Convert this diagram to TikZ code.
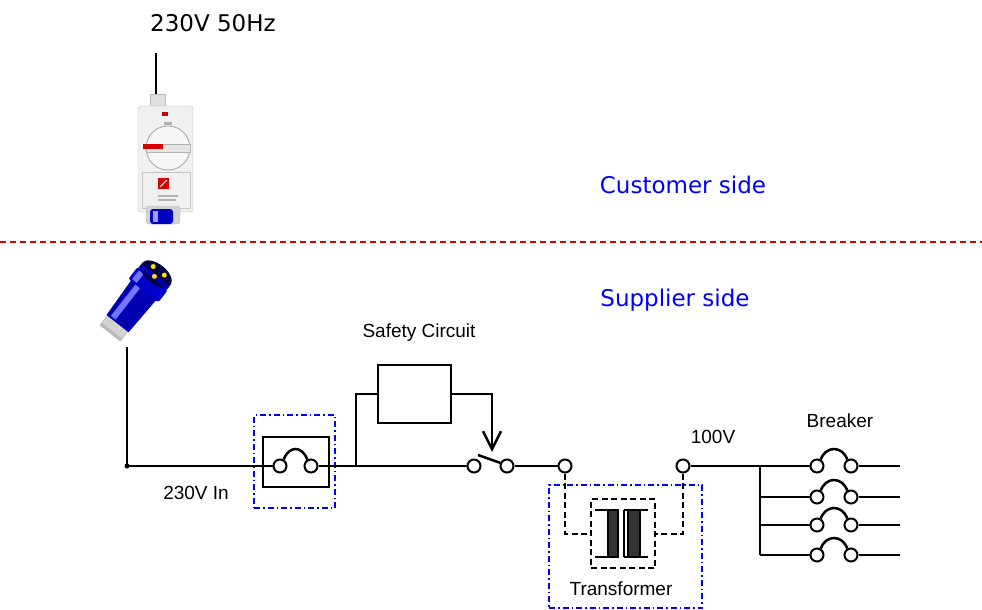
\documentclass[tikz,border=0pt]{standalone}
\usepackage{fontspec}
\setmainfont{DejaVu Sans}
\newfontfamily\arialf{Liberation Sans}
\usetikzlibrary{arrows.meta,calc}
\begin{document}
\begin{tikzpicture}[x=1pt,y=-1pt,
 wire/.style={line width=2.5pt},
 term/.style={circle,draw,line width=2pt,fill=white,minimum size=13pt,inner sep=0pt},
 bluebox/.style={draw=blue,line width=1.7pt,dash pattern=on 6pt off 3pt on 1.5pt off 3pt},
 blklbl/.style={font=\arialf\fontsize{19}{22}\selectfont,inner sep=0pt},
 sidelbl/.style={font=\fontsize{23}{27}\selectfont,text=blue,inner sep=0pt},
 toplbl/.style={font=\fontsize{23}{27}\selectfont,inner sep=0pt},
 tdash/.style={line width=2pt,dash pattern=on 6pt off 3.5pt},
 rect/.style={draw,line width=2.5pt,inner sep=0pt},
]
\useasboundingbox (0,0) rectangle (982,610);
\fill[white] (0,0) rectangle (982,610);

% top label and outlet
\node[toplbl] (supply) at (213,23) {230V 50Hz};
\coordinate (cordtop) at (156,53);
\coordinate (cordbot) at (156,95);
\draw[wire] (cordtop) -- (cordbot);
% outlet picture
\filldraw[fill=gray!25,draw=gray!55] (150,94) rectangle (165,108);
\filldraw[fill=gray!12,draw=gray!50,rounded corners=3] (138,106) rectangle (193,212);
\fill[red!80!black] (162,112) rectangle (168,116);
\fill[gray!60] (164,122) rectangle (172,125);
\filldraw[fill=gray!6,draw=gray!60,line width=1pt] (168,148) circle (22);
\filldraw[fill=gray!20,draw=gray!60] (146,144) rectangle (190,152);
\fill[red!85!black] (143,144) rectangle (163,149);
\draw[gray!45] (142,172) rectangle (190,208);
\fill[red!85!black] (158,178) rectangle (169,189);
\draw[white,line width=0.8pt] (160,187) -- (167,180);
\fill[gray!60] (158,195) rectangle (178,197);
\fill[gray!60] (158,199) rectangle (176,201);
\filldraw[fill=gray!35,draw=gray!55,rounded corners=3] (146,206) rectangle (180,224);
\fill[blue!75!black,rounded corners=3] (150,209) rectangle (173,224);
\fill[blue!40] (153,211) rectangle (158,222);

% side labels and boundary
\node[sidelbl] (cust) at (683,185) {Customer side};
\node[sidelbl] (supp) at (675,300) {Supplier side};
\coordinate (bl) at (0,242);
\coordinate (br) at (982,242);
\draw[red!85!black,line width=1.1pt,dash pattern=on 6pt off 4pt] (bl) -- (br);

% plug picture
\begin{scope}[shift={(136,300)},rotate=52]
 \filldraw[fill=gray!35,draw=gray!60] (-42,-13) rectangle (-29,13);
 \fill[gray!55] (-42,-13) rectangle (-39,13);
 \fill[blue!70!black] (-30,-14) -- (14,-16) -- (14,16) -- (-30,14) -- cycle;
 \fill[blue!55] (-28,-10) rectangle (12,-4);
 \fill[blue!80!black,rounded corners=2] (12,-19) rectangle (27,19);
 \fill[blue!55] (14,-16) rectangle (25,-10);
 \fill[blue!25!black] (33,0) ellipse (10 and 18);
 \fill[blue!65!black] (27,-18) rectangle (32,18);
 \fill[yellow!80!orange] (37,-7) circle (2.5);
 \fill[yellow!80!orange] (37,7) circle (2.5);
 \fill[yellow!80!orange] (30,0) circle (2.5);
\end{scope}

% incoming line
\coordinate (plugend) at (127,347);
\node[circle,fill,inner sep=0pt,minimum size=5pt] (dot) at (127,466) {};
\draw[wire] (plugend) -- (dot.center);
\node[blklbl] (inlbl) at (196,493) {230V In};

% fuse
\node[rect,minimum width=66pt,minimum height=50pt] (fusebox) at (296,462) {};
\node[bluebox,draw,minimum width=81pt,minimum height=93pt,inner sep=0pt] (fuseblue) at (294.5,461.5) {};
\node[term] (fL) at (280,466) {};
\node[term] (fR) at (311,466) {};
\draw[wire] (dot.center) -- (fL.west);
\draw[wire] (fL.60) .. controls ($(fL.60)+(5,-14)$) and ($(fR.120)+(-5,-14)$) .. (fR.120);

% junction and safety circuit
\coordinate (jn) at (356,466);
\draw[wire] (fR.east) -- (jn);
\node[rect,minimum width=73pt,minimum height=58pt] (sc) at (414.5,394) {};
\node[blklbl] (sclbl) at (419,333) {Safety Circuit};
\node[term] (sw1) at (474,466) {};
\node[term] (sw2) at (507,466) {};
\draw[wire] (jn) -- (sw1.west);
\draw[wire] (jn) |- (sc.west);
\coordinate (tip) at (492,452);
\draw[wire,-{Straight Barb[length=18pt,width=18pt]}] (sc.east) -| (tip);
\draw[wire] ($(sw1.center)+(4,-11)$) -- (sw2.155);

% transformer
\node[term] (t1) at (565,466) {};
\node[term] (t2) at (683,466) {};
\draw[wire] (sw2.east) -- (t1.west);
\node[blklbl] (v100) at (713,437) {100V};
\node[bluebox,draw,minimum width=153pt,minimum height=123pt,inner sep=0pt] (trblue) at (625.5,546.5) {};
\node[draw,tdash,minimum width=64pt,minimum height=69pt,inner sep=0pt] (tr) at (623,533.5) {};
\draw[tdash] (t1.south) |- (tr.west);
\draw[tdash] (t2.south) |- (tr.east);
\draw[line width=1.6pt] (595,510) -- (617,510);
\draw[line width=1.6pt] (595,557) -- (617,557);
\filldraw[fill=black!80,line width=1.3pt] (608,510) rectangle (618,557);
\draw[line width=1.6pt] (624,510) -- (648,510);
\draw[line width=1.6pt] (624,557) -- (648,557);
\draw[line width=1.3pt] (624,510) -- (624,557);
\filldraw[fill=black!80,line width=1.3pt] (628,510) rectangle (640,557);
\node[blklbl] (trlbl) at (621,589) {Transformer};

% breakers
\node[blklbl] (brlbl) at (840,421) {Breaker};
\coordinate (bus) at (760,466);
\coordinate (busend) at (760,555);
\draw[wire] (bus) -- (busend);
\foreach \i/\y in {1/466,2/497,3/525,4/555}{
 \node[term] (bL\i) at (817,\y) {};
 \node[term] (bR\i) at (851,\y) {};
 \coordinate (out\i) at (900,\y);
 \coordinate (bus\i) at (760,\y);
 \draw[wire] (bR\i.east) -- (out\i);
 \draw[wire] (bL\i.60) .. controls ($(bL\i.60)+(5,-14)$) and ($(bR\i.120)+(-5,-14)$) .. (bR\i.120);
}
\draw[wire] (t2.east) -- (bL1.west);
\foreach \i in {2,3,4}{\draw[wire] (bus\i) -- (bL\i.west);}
\end{tikzpicture}
\end{document}
